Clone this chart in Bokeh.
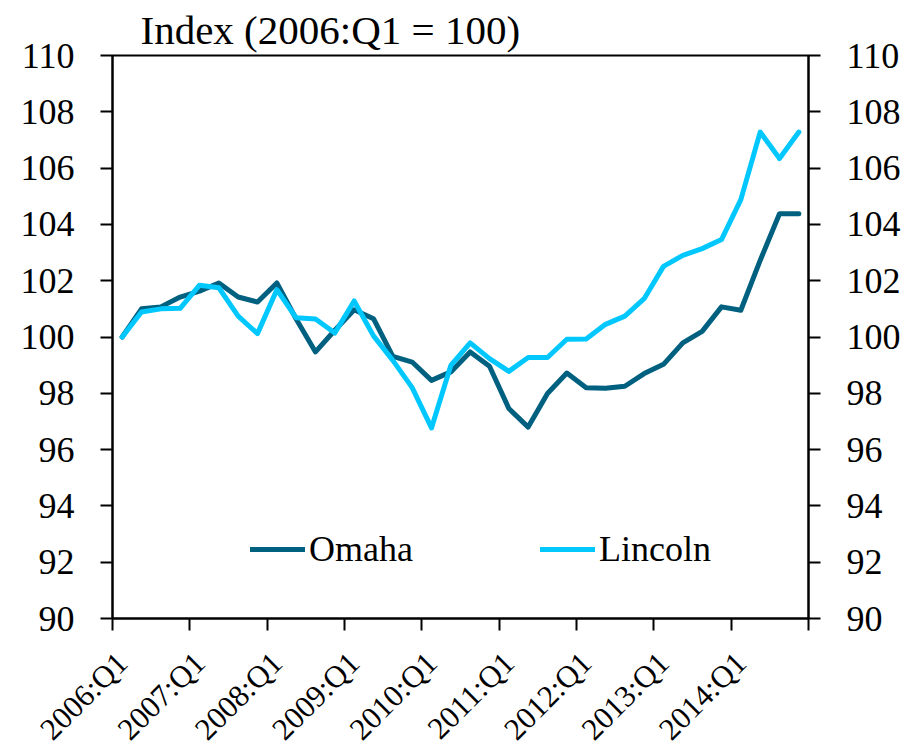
from math import pi
from bokeh.plotting import figure
from bokeh.models import FixedTicker, LinearAxis, Legend, LegendItem, Range1d
from bokeh.embed import file_html
from bokeh.resources import INLINE

# ---- data (quarterly index, 2006:Q1 = 100) ----
quarter_index = list(range(36))  # 2006:Q1 ... 2014:Q4
omaha = [100.0, 101.0, 101.07, 101.42, 101.63, 101.92, 101.42, 101.24, 101.92, 100.64,
         99.47, 100.24, 100.97, 100.65, 99.31, 99.11, 98.46, 98.76, 99.47, 98.96,
         97.46, 96.80, 97.99, 98.72, 98.20, 98.18, 98.25, 98.70, 99.03, 99.79,
         100.20, 101.07, 100.95, 102.72, 104.38, 104.38]
lincoln = [100.0, 100.89, 101.0, 101.02, 101.84, 101.75, 100.74, 100.12, 101.68, 100.68,
           100.64, 100.14, 101.28, 100.04, 99.17, 98.20, 96.77, 98.99, 99.79, 99.23,
           98.78, 99.27, 99.27, 99.92, 99.93, 100.45, 100.74, 101.36, 102.51, 102.90,
           103.14, 103.46, 104.88, 107.28, 106.34, 107.28]
year_labels = ["2006:Q1", "2007:Q1", "2008:Q1", "2009:Q1", "2010:Q1",
               "2011:Q1", "2012:Q1", "2013:Q1", "2014:Q1"]
year_label_pos = [0, 4, 8, 12, 16, 20, 24, 28, 32]
year_boundaries = [-0.5, 3.5, 7.5, 11.5, 15.5, 19.5, 23.5, 27.5, 31.5, 35.5]
y_ticks = [90, 92, 94, 96, 98, 100, 102, 104, 106, 108, 110]
Y_MIN, Y_MAX = 90, 110

FONT = "Liberation Serif"
FS = "36px"
DARK = "#00607F"
LIGHT = "#00C8FF"

p = figure(frame_width=696, frame_height=563,
           x_range=Range1d(-0.5, 35.5), y_range=Range1d(Y_MIN, Y_MAX),
           output_backend="svg", toolbar_location=None,
           min_border_left=112, min_border_right=106, min_border_top=55,
           min_border_bottom=0, x_axis_location=None, y_axis_location=None)

p.xgrid.visible = False
p.ygrid.visible = False
p.outline_line_color = "black"
p.outline_line_width = 2
p.outline_line_alpha = 1.0
p.background_fill_color = "white"
p.border_fill_color = "white"

p.title.text = "Index (2006:Q1 = 100)"
p.title.text_font = FONT
p.title.text_font_size = "41px"
p.title.text_font_style = "normal"
p.title.text_color = "black"
p.title.align = "left"
p.title.offset = 28
p.title.standoff = 5

def style_y(ax):
    ax.ticker = FixedTicker(ticks=y_ticks)
    ax.major_tick_out = 12
    ax.major_tick_in = 0
    ax.minor_tick_out = 0
    ax.minor_tick_in = 0
    ax.axis_line_width = 2
    ax.axis_line_color = "black"
    ax.major_tick_line_width = 2
    ax.major_tick_line_color = "black"
    ax.major_label_text_font = FONT
    ax.major_label_text_font_size = FS
    ax.major_label_text_color = "black"
    ax.major_label_standoff = 26

yl = LinearAxis()
style_y(yl)
p.add_layout(yl, "left")
yr = LinearAxis()
style_y(yr)
p.add_layout(yr, "right")

# bottom axis: labels at first quarter of each year, tick marks at year boundaries
xb = LinearAxis()
xb.ticker = FixedTicker(ticks=year_label_pos, minor_ticks=year_boundaries)
xb.major_label_overrides = {pos: lab for pos, lab in zip(year_label_pos, year_labels)}
xb.major_tick_out = 0
xb.major_tick_in = 0
xb.minor_tick_out = 12
xb.minor_tick_in = 0
xb.minor_tick_line_color = "black"
xb.minor_tick_line_width = 2
xb.axis_line_width = 2
xb.axis_line_color = "black"
xb.major_label_orientation = pi / 4
xb.major_label_text_font = FONT
xb.major_label_text_font_size = "31px"
xb.major_label_text_color = "black"
xb.major_label_standoff = 27
p.add_layout(xb, "below")

r1 = p.line(quarter_index, omaha, line_color=DARK, line_width=5,
            line_cap="round", line_join="round")
r2 = p.line(quarter_index, lincoln, line_color=LIGHT, line_width=5,
            line_cap="round", line_join="round")

legend = Legend(items=[LegendItem(label="Omaha", renderers=[r1]),
                       LegendItem(label="Lincoln", renderers=[r2])],
                orientation="horizontal", location=(138, 48),
                padding=0, margin=0, spacing=127,
                glyph_width=55, glyph_height=20, label_standoff=4,
                label_text_font=FONT, label_text_font_size=FS,
                label_text_color="black",
                border_line_alpha=0, background_fill_alpha=0)
p.add_layout(legend)

open("out.html", "w").write(file_html(p, INLINE))
